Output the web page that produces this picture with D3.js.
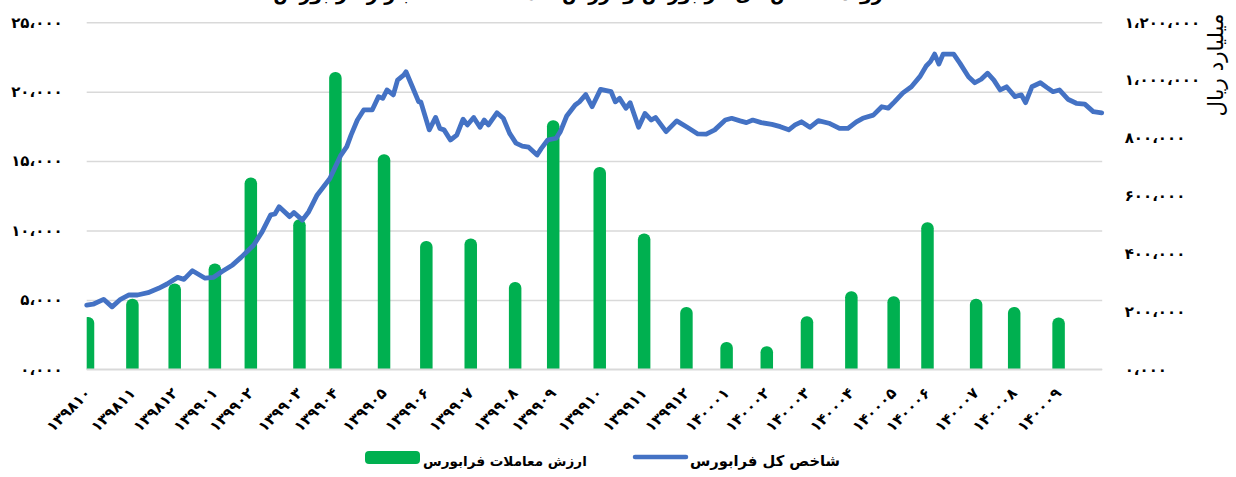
<!DOCTYPE html>
<html><head><meta charset="utf-8">
<script src="https://cdn.jsdelivr.net/npm/d3@7"></script>
<style>body{margin:0;background:#fff;} svg{display:block;}</style>
</head><body>
<svg id="c" width="1236" height="477"></svg>
<script>
// ---------- DATA ----------
const titleText = "روند شاخص کل فرابورس و ارزش ماهانه معاملات بازار فرابورس";
const xLabels = ["۱۳۹۸۱۰","۱۳۹۸۱۱","۱۳۹۸۱۲","۱۳۹۹۰۱","۱۳۹۹۰۲","۱۳۹۹۰۳","۱۳۹۹۰۴","۱۳۹۹۰۵","۱۳۹۹۰۶","۱۳۹۹۰۷","۱۳۹۹۰۸","۱۳۹۹۰۹","۱۳۹۹۱۰","۱۳۹۹۱۱","۱۳۹۹۱۲","۱۴۰۰۰۱","۱۴۰۰۰۲","۱۴۰۰۰۳","۱۴۰۰۰۴","۱۴۰۰۰۵","۱۴۰۰۰۶","۱۴۰۰۰۷","۱۴۰۰۰۸","۱۴۰۰۰۹"];
// trading-day index of each monthly bar
const barDays = [0,21,41,60,77,100,117,140,160,181,202,220,242,263,283,302,321,340,361,381,397,420,438,459];
// monthly trading value (billion rials)
const barValues = [3770,5090,6180,7620,13810,10810,21420,15490,9250,9420,6290,17940,14580,9780,4490,1970,1660,3820,5630,5260,10590,5090,4490,3730];
// daily index (trading-day index, value)
const lineDays = [0,3,8,12,16,20,24,29,34,38,43,46,50,56,60,64,69,73,79,83,87,89,91,96,98,102,105,109,112,115,120,123,125,128,131,135,138,140,142,145,147,150,151,154,157,158,162,165,167,169,172,175,178,180,183,186,188,190,194,197,200,203,206,209,213,215,218,222,224,227,231,233,236,239,243,248,250,252,255,257,261,264,267,269,274,279,284,289,293,297,302,305,309,312,315,319,324,328,332,335,338,342,346,351,356,360,364,367,372,376,379,382,386,390,394,397,399,401,403,405,410,413,417,420,423,426,429,432,435,439,442,444,447,451,454,457,460,464,468,472,476,480];
const lineValues = [222000,225000,242000,216000,242000,257000,257000,265000,280000,295000,318000,311000,341000,315000,318000,338000,361000,387000,430000,476000,534000,537000,562000,528000,542000,516000,545000,603000,631000,660000,738000,770000,810000,862000,897000,897000,943000,937000,966000,949000,1000000,1018000,1029000,977000,925000,925000,828000,871000,833000,828000,793000,810000,865000,845000,871000,837000,862000,845000,887000,868000,816000,782000,772000,768000,741000,764000,793000,799000,822000,876000,914000,925000,950000,908000,968000,960000,925000,937000,903000,922000,837000,885000,862000,871000,822000,859000,837000,814000,813000,828000,862000,868000,859000,853000,862000,853000,847000,839000,828000,845000,856000,837000,860000,851000,833000,833000,856000,868000,879000,908000,903000,925000,956000,977000,1012000,1049000,1064000,1090000,1056000,1090000,1090000,1058000,1012000,991000,1003000,1024000,1000000,966000,977000,943000,949000,922000,977000,991000,975000,960000,966000,934000,920000,917000,891000,887000];
const leftTicks = [0,5000,10000,15000,20000,25000];
const leftTickLabels = ["۰،۰۰۰","۵،۰۰۰","۱۰،۰۰۰","۱۵،۰۰۰","۲۰،۰۰۰","۲۵،۰۰۰"];
const rightTicks = [0,200000,400000,600000,800000,1000000,1200000];
const rightTickLabels = ["۰،۰۰۰","۲۰۰،۰۰۰","۴۰۰،۰۰۰","۶۰۰،۰۰۰","۸۰۰،۰۰۰","۱،۰۰۰،۰۰۰","۱،۲۰۰،۰۰۰"];
const rightAxisTitle = "میلیارد ریال";
const legendBars = "ارزش معاملات فرابورس";
const legendLine = "شاخص کل فرابورس";

// ---------- LAYOUT ----------
const GREEN = "#00B050", BLUE = "#4472C4", GRID = "#d9d9d9";
const FONT = "'DejaVu Sans', sans-serif";
const L = 86.7, R = 1101.7, T = 22.3, B = 369.3;
const svg = d3.select("#c");

function fit(sel, target) {
  const fs = +sel.attr("font-size");
  const w = sel.node().getComputedTextLength();
  if (w > 0) sel.attr("font-size", (fs * target / w).toFixed(2));
  return sel;
}

const x = d3.scaleLinear().domain([0, 480]).range([L, R]);
const yL = d3.scaleLinear().domain([0, 25000]).range([B, T]);
const yR = d3.scaleLinear().domain([0, 1200000]).range([B, T]);

// title (cropped at top in reference)
svg.append("text").attr("x", 578).attr("y", 0).attr("text-anchor", "middle")
  .attr("font-family", FONT).attr("font-weight", "bold").attr("font-size", 19)
  .attr("fill", "#000").text(titleText);

// gridlines
const grid = svg.append("g").attr("transform", `translate(${L},0)`)
  .call(d3.axisLeft(yL).tickValues(leftTicks).tickSize(-(R - L + 0.5)).tickFormat(""));
grid.select(".domain").remove();
grid.selectAll("line").attr("stroke", GRID).attr("stroke-width", 1.5);

// clip
svg.append("clipPath").attr("id", "plotclip").append("rect")
  .attr("x", L).attr("y", 0).attr("width", R - L + 2).attr("height", B);

// bars
const bw = 12.5;
svg.append("g").attr("clip-path", "url(#plotclip)")
  .selectAll("rect").data(d3.zip(barDays, barValues)).join("rect")
  .attr("x", d => x(d[0]) - bw / 2 + 1.3)
  .attr("y", d => yL(d[1]))
  .attr("width", bw)
  .attr("height", d => yL(0) - yL(d[1]) + 10)
  .attr("rx", 6).attr("fill", GREEN);

// baseline
svg.append("line").attr("x1", L).attr("x2", R + 0.5).attr("y1", B).attr("y2", B)
  .attr("stroke", GRID).attr("stroke-width", 1.5);

// line
const line = d3.line().x(d => x(d[0])).y(d => yR(d[1]));
svg.append("path").datum(d3.zip(lineDays, lineValues))
  .attr("d", line).attr("fill", "none").attr("stroke", BLUE)
  .attr("stroke-width", 4.8).attr("stroke-linejoin", "round").attr("stroke-linecap", "round");

// left axis labels
const la = svg.append("g").attr("transform", `translate(${L},0)`)
  .call(d3.axisLeft(yL).tickValues(leftTicks).tickSize(0).tickPadding(24)
    .tickFormat((d, i) => leftTickLabels[i]));
la.select(".domain").remove();
la.selectAll("text").attr("font-family", FONT).attr("font-weight", "bold")
  .attr("font-size", 15).attr("fill", "#000");

// right axis labels
const ra = svg.append("g").attr("transform", `translate(${R},0)`)
  .call(d3.axisRight(yR).tickValues(rightTicks).tickSize(0).tickPadding(23)
    .tickFormat((d, i) => rightTickLabels[i]));
ra.select(".domain").remove();
ra.selectAll("text").attr("font-family", FONT).attr("font-weight", "bold")
  .attr("font-size", 15).attr("fill", "#000");

// right axis title
fit(svg.append("text").attr("transform", "translate(1223,65) rotate(-90)")
  .attr("text-anchor", "middle").attr("font-family", FONT).attr("font-size", 19)
  .attr("fill", "#000").text(rightAxisTitle), 103);

// x labels
svg.append("g").selectAll("text").data(xLabels).join("text")
  .attr("transform", (d, i) => `translate(${x(barDays[i]) + 5},394) rotate(-45)`)
  .attr("text-anchor", "end").attr("font-family", FONT).attr("font-weight", "bold")
  .attr("font-size", 15).attr("letter-spacing", 2.4).attr("fill", "#000").text(d => d);

// legend
const lg = svg.append("g");
lg.append("rect").attr("x", 365).attr("y", 451).attr("width", 55).attr("height", 13)
  .attr("rx", 4).attr("fill", GREEN);
fit(lg.append("text").attr("x", 423).attr("y", 466).attr("font-family", FONT)
  .attr("font-weight", "bold").attr("font-size", 16).attr("fill", "#000").text(legendBars), 164);
lg.append("line").attr("x1", 635).attr("x2", 686).attr("y1", 457).attr("y2", 457)
  .attr("stroke", BLUE).attr("stroke-width", 4.5).attr("stroke-linecap", "round");
fit(lg.append("text").attr("x", 690).attr("y", 466).attr("font-family", FONT)
  .attr("font-weight", "bold").attr("font-size", 16).attr("fill", "#000").text(legendLine), 150);
</script>
</body></html>
